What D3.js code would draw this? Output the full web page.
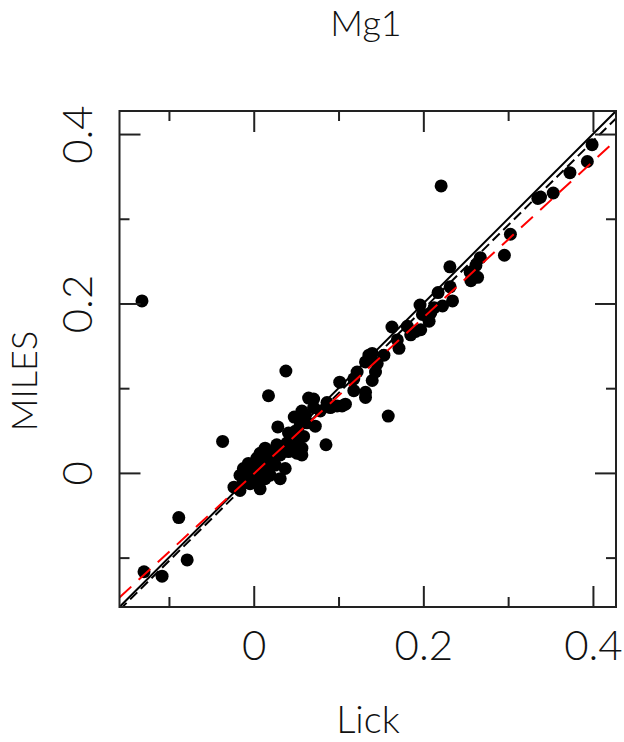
<!DOCTYPE html>
<html>
<head>
<meta charset="utf-8">
<script src="https://cdn.jsdelivr.net/npm/d3@7"></script>
<style>
  body { margin: 0; background: #fff; }
  text { font-family: "Lato", "Open Sans", sans-serif; font-weight: 300; fill: #111; }
</style>
</head>
<body>
<div id="grafico"></div>
<script>
// Valores Lick (eje x) y MILES (eje y)
const lick = [
  -0.1318, 0.2210, 0.3990, 0.3934, 0.3729, 0.3532, 0.3350, 0.3382, 0.3027, 0.2956,
  0.2313, 0.2672, 0.2620, 0.2553, 0.2640, 0.2561, 0.2316, 0.2344, 0.2174, 0.2226,
  0.1961, 0.1989, 0.2088, 0.2127, 0.2068, 0.1969, 0.1910, 0.1851, 0.1811, 0.1630,
  0.1693, 0.1713, 0.1535, 0.1456, 0.1436, 0.1397, 0.1358, 0.1397, 0.1318, 0.1219,
  0.1180, 0.1180, 0.1318, 0.1318, 0.1014, 0.1081, 0.1042, 0.0983, 0.0904, 0.0864,
  0.0647, 0.0706, 0.0706, 0.0785, 0.0568, 0.0608, 0.0478, 0.0726, 0.0627, 0.0549,
  0.1586, 0.0379, 0.0174, -0.0367, 0.0284, 0.0852,
  0.0410, 0.0489, 0.0450, 0.0529, 0.0588, 0.0391, 0.0489, 0.0568, 0.0343, 0.0272,
  0.0233, 0.0312, 0.0410, 0.0509, 0.0568, 0.0371, 0.0312, 0.0430,
  0.0134, 0.0075, 0.0036, 0.0114, 0.0174, -0.0063, -0.0122, -0.0162, -0.0063, 0.0016,
  0.0075, 0.0154, -0.0004, 0.0055, 0.0134, -0.0043, -0.0122, -0.0162, -0.0233, 0.0075,
  0.0193, 0.0253, 0.0213, 0.0036, -0.0083, 0.0095,
  -0.0884, -0.0785, -0.1294, -0.1081
];
const miles = [
  0.2030, 0.3388, 0.3875, 0.3676, 0.3544, 0.3304, 0.3240, 0.3256, 0.2817, 0.2569,
  0.2433, 0.2541, 0.2449, 0.2369, 0.2309, 0.2269, 0.2197, 0.2030, 0.2129, 0.1970,
  0.1982, 0.1870, 0.1890, 0.1950, 0.1790, 0.1690, 0.1670, 0.1630, 0.1730, 0.1722,
  0.1570, 0.1470, 0.1390, 0.1290, 0.1191, 0.1091, 0.1390, 0.1410, 0.1310, 0.1191,
  0.1111, 0.0971, 0.0891, 0.0951, 0.1071, 0.0811, 0.0791, 0.0791, 0.0771, 0.0831,
  0.0883, 0.0871, 0.0771, 0.0731, 0.0731, 0.0671, 0.0659, 0.0551, 0.0591, 0.0571,
  0.0671, 0.1203, 0.0911, 0.0372, 0.0543, 0.0332,
  0.0471, 0.0491, 0.0412, 0.0392, 0.0431, 0.0352, 0.0332, 0.0292, 0.0292, 0.0332,
  0.0252, 0.0212, 0.0252, 0.0232, 0.0212, 0.0052, -0.0068, 0.0451,
  0.0292, 0.0232, 0.0172, 0.0152, 0.0192, 0.0112, 0.0052, -0.0028, 0.0012, 0.0032,
  0.0092, 0.0052, -0.0068, -0.0108, -0.0068, -0.0128, -0.0108, -0.0208, -0.0168, -0.0188,
  -0.0028, 0.0092, 0.0132, -0.0028, -0.0048, -0.0008,
  -0.0527, -0.1027, -0.1167, -0.1219
];

// Rectas: identidad, y dos ajustes (pendiente, ordenada)
const rectas = [
  { pendiente: 1.000, ordenada: 0.0000, color: "#000", guiones: null },
  { pendiente: 0.991, ordenada: -0.0049, color: "#000", guiones: "10,5" },
  { pendiente: 0.922, ordenada: -0.0011, color: "#ff0000", guiones: "16,10" }
];

const dominio = [-0.1583, 0.4272];
const marcasMayores = [0, 0.2, 0.4];
const marcasMenores = [-0.1, 0.1, 0.3];

const ancho = 624;
const alto = 742;
const margen = { top: 111, right: 8, bottom: 135, left: 119.5 };

const svg = d3.select("#grafico")
  .append("svg")
  .attr("width", ancho)
  .attr("height", alto);

const escalaX = d3.scaleLinear()
  .domain(dominio)
  .range([margen.left, ancho - margen.right]);

const escalaY = d3.scaleLinear()
  .domain(dominio)
  .range([alto - margen.bottom, margen.top]);

const formato = d => d === 0 ? "0" : d3.format(".1f")(d);

// Recortar lineas al marco
svg.append("clipPath")
  .attr("id", "recorte")
  .append("rect")
  .attr("x", margen.left)
  .attr("y", margen.top)
  .attr("width", ancho - margen.right - margen.left)
  .attr("height", alto - margen.bottom - margen.top);

// Puntos
svg.append("g")
  .attr("clip-path", "url(#recorte)")
  .selectAll("circle")
  .data(lick.map((x, i) => ({ x, y: miles[i] })))
  .enter()
  .append("circle")
  .attr("cx", d => escalaX(d.x))
  .attr("cy", d => escalaY(d.y))
  .attr("r", 6.5)
  .attr("fill", "#000");

// Rectas
svg.append("g")
  .attr("clip-path", "url(#recorte)")
  .selectAll("line")
  .data(rectas)
  .enter()
  .append("line")
  .attr("x1", escalaX(dominio[0]))
  .attr("x2", escalaX(dominio[1]))
  .attr("y1", d => escalaY(d.pendiente * dominio[0] + d.ordenada))
  .attr("y2", d => escalaY(d.pendiente * dominio[1] + d.ordenada))
  .attr("stroke", d => d.color)
  .attr("stroke-width", 2)
  .attr("stroke-dasharray", d => d.guiones);

// Ejes con marcas hacia dentro en los cuatro lados
function dibujarEje(eje, transform, valores, largo, etiquetas) {
  const g = svg.append("g")
    .attr("transform", transform)
    .call(eje.tickValues(valores).tickSize(-largo).tickFormat(etiquetas ? formato : ""));
  g.select(".domain").remove();
  g.selectAll("line").attr("stroke", "#222").attr("stroke-width", 2);
  g.attr("font-family", null).attr("font-size", 42);
  return g;
}

const abajo = alto - margen.bottom;
const derecha = ancho - margen.right;

dibujarEje(d3.axisBottom(escalaX), `translate(0,${abajo})`, marcasMenores, 10, false);
dibujarEje(d3.axisTop(escalaX), `translate(0,${margen.top})`, marcasMenores, 10, false);
dibujarEje(d3.axisLeft(escalaY), `translate(${margen.left},0)`, marcasMenores, 10, false);
dibujarEje(d3.axisRight(escalaY), `translate(${derecha},0)`, marcasMenores, 10, false);
dibujarEje(d3.axisTop(escalaX), `translate(0,${margen.top})`, marcasMayores, 21, false);
dibujarEje(d3.axisRight(escalaY), `translate(${derecha},0)`, marcasMayores, 21, false);

dibujarEje(d3.axisBottom(escalaX), `translate(0,${abajo})`, marcasMayores, 21, true)
  .selectAll("text")
  .attr("y", 53)
  .attr("dy", null)
  .attr("fill", "#111");

dibujarEje(d3.axisLeft(escalaY), `translate(${margen.left},0)`, marcasMayores, 21, true)
  .selectAll("text")
  .attr("x", 0)
  .attr("y", -28)
  .attr("dy", null)
  .attr("text-anchor", "middle")
  .attr("transform", "rotate(-90)")
  .attr("fill", "#111");

// Marco
svg.append("rect")
  .attr("x", margen.left)
  .attr("y", margen.top)
  .attr("width", derecha - margen.left)
  .attr("height", abajo - margen.top)
  .attr("fill", "none")
  .attr("stroke", "#222")
  .attr("stroke-width", 2);

// Titulo y nombres de ejes
svg.append("text")
  .attr("x", 366)
  .attr("y", 36)
  .attr("text-anchor", "middle")
  .style("font-size", "36px")
  .text("Mg1");

svg.append("text")
  .attr("x", 368)
  .attr("y", 733)
  .attr("text-anchor", "middle")
  .style("font-size", "38px")
  .text("Lick");

svg.append("text")
  .attr("transform", "translate(37,381) rotate(-90)")
  .attr("text-anchor", "middle")
  .style("font-size", "36px")
  .text("MILES");
</script>
</body>
</html>
